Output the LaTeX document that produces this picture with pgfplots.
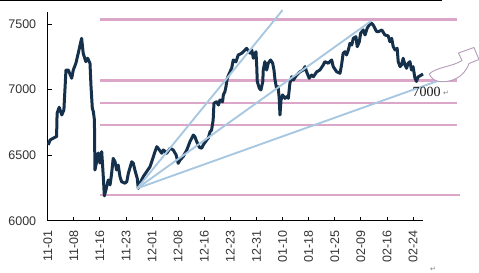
\documentclass[border=0pt]{standalone}
\usepackage{pgfplots}
\pgfplotsset{compat=1.18}
\usepackage{fontspec}
\setmainfont{Liberation Sans}
\newfontfamily\serifnum{Liberation Serif}
\newfontfamily\dejavu{DejaVu Sans}
\definecolor{navy}{HTML}{15304A}
\definecolor{pinkl}{HTML}{DCA6C8}
\definecolor{bluel}{HTML}{A8C8E2}
\definecolor{mauve}{HTML}{B49CB8}
\begin{document}
\begin{tikzpicture}
\path[use as bounding box] (0,0) rectangle (479bp,273bp);
\begin{axis}[
  at={(47.7bp,52.3bp)}, anchor=south west,
  scale only axis, width=375.3bp, height=208.7bp,
  xmin=0, xmax=14.38, ymin=6000, ymax=7593,
  axis x line*=bottom, axis y line*=left,
  axis line style={black, line width=0.9bp, -},
  tick align=inside, major tick length=4bp,
  tick style={black, line width=0.8bp},
  xtick={0,...,14},
  xticklabels={11-01,11-08,11-16,11-23,12-01,12-08,12-16,12-23,12-31,01-10,01-18,01-25,02-09,02-16,02-24},
  ytick={6000,6500,7000,7500},
  /pgf/number format/assume math mode=true,
  /pgf/number format/1000 sep={},
  ticklabel style={font=\fontsize{12.5bp}{14bp}\selectfont, text=black!80},
  xticklabel style={rotate=90, anchor=east},
  xticklabel shift=6.5bp,
  yticklabel shift=8bp,
  clip=false,
]
% pink horizontal levels
\addplot[pinkl, line width=2.6bp] coordinates {(2.0,7538) (15.7,7538)};
\addplot[pinkl, line width=2.6bp] coordinates {(2.0,7069) (15.7,7069)};
\addplot[pinkl, line width=2.6bp] coordinates {(2.0,6898) (15.7,6898)};
\addplot[pinkl, line width=2.6bp] coordinates {(2.0,6730) (15.7,6730)};
\addplot[pinkl, line width=2.6bp] coordinates {(2.0,6196) (15.8,6196)};
% price series
\addplot[navy, line width=3bp, line join=round] coordinates {
(0.02,6578) (0.09,6616) (0.28,6637) (0.34,6641) (0.36,6820) (0.44,6866) (0.54,6807) (0.62,6845)
(0.70,7150) (0.79,7150) (0.92,7087) (0.98,7150) (1.08,7202) (1.17,7278) (1.24,7341) (1.30,7392)
(1.36,7278) (1.46,7214) (1.53,7240) (1.62,7202) (1.66,7023) (1.71,6858) (1.75,6832) (1.79,6769)
(1.81,6387) (1.94,6517) (2.00,6440) (2.07,6527) (2.13,6336) (2.17,6189) (2.23,6234) (2.32,6311)
(2.39,6273) (2.45,6362) (2.51,6476) (2.58,6450) (2.64,6387) (2.70,6425) (2.77,6336) (2.83,6298)
(2.96,6286) (3.03,6298) (3.09,6362) (3.22,6450) (3.28,6438) (3.34,6387) (3.43,6324) (3.47,6247)
(3.54,6286) (3.66,6336) (3.79,6374) (3.92,6412) (4.05,6489) (4.11,6527) (4.18,6565) (4.28,6540)
(4.37,6515) (4.43,6540) (4.56,6515) (4.69,6553) (4.81,6540) (4.92,6502) (5.00,6438) (5.07,6463)
(5.19,6489) (5.33,6540) (5.45,6603) (5.58,6654) (5.64,6641) (5.71,6603) (5.81,6560) (5.90,6553)
(5.96,6578) (6.09,6616) (6.15,6629) (6.22,6679) (6.28,6692) (6.34,6769) (6.37,6896) (6.47,6908)
(6.54,6883) (6.60,6921) (6.70,6908) (6.73,6960) (6.79,6985) (6.83,7023) (6.88,7087) (6.96,7125)
(7.05,7166) (7.11,7227) (7.21,7212) (7.30,7265) (7.43,7278) (7.56,7303) (7.62,7316) (7.75,7278)
(7.82,7303) (7.88,7240) (7.98,7290) (8.01,7176) (8.03,7061) (8.11,7011) (8.17,6998) (8.24,7061)
(8.26,7150) (8.32,7214) (8.39,7150) (8.45,7202) (8.54,7227) (8.62,7202) (8.67,7150) (8.71,7074)
(8.77,7011) (8.83,7023) (8.87,6934) (8.90,6807) (8.94,6921) (9.00,6960) (9.09,6934) (9.16,6947)
(9.22,6934) (9.28,7049) (9.35,7099) (9.41,7074) (9.54,7112) (9.67,7137) (9.79,7150) (9.86,7176)
(9.92,7137) (10.02,7087) (10.11,7112) (10.18,7099) (10.31,7137) (10.43,7150) (10.56,7189) (10.62,7214)
(10.75,7202) (10.88,7227) (10.94,7176) (11.07,7137) (11.20,7125) (11.26,7189) (11.32,7278) (11.39,7290)
(11.45,7265) (11.52,7303) (11.58,7354) (11.65,7341) (11.71,7392) (11.81,7405) (11.86,7328) (11.94,7366)
(11.99,7431) (12.09,7456) (12.16,7418) (12.24,7469) (12.32,7494) (12.41,7507) (12.47,7494) (12.60,7444)
(12.67,7443) (12.80,7456) (12.92,7418) (13.05,7410) (13.11,7366) (13.18,7392) (13.24,7328) (13.31,7303)
(13.39,7316) (13.43,7214) (13.50,7176) (13.56,7189) (13.62,7240) (13.69,7189) (13.75,7163) (13.81,7202)
(13.88,7214) (13.94,7150) (14.00,7176) (14.07,7089) (14.13,7063) (14.19,7097) (14.26,7105) (14.38,7120)
};
% light blue trend lines
\addplot[bluel, line width=1.9bp] coordinates {(3.43,6247) (9.00,7608)};
\addplot[bluel, line width=1.9bp] coordinates {(3.43,6247) (12.41,7527)};
\addplot[bluel, line width=1.9bp] coordinates {(3.43,6247) (15.1,7078)};
\end{axis}
% decorations in image coordinates (y downward)
\begin{scope}[x=1bp, y=-1bp, yshift=273bp]
  \draw[black, line width=1.2bp] (0,0.6) -- (442,0.6);
  \node[font=\serifnum\fontsize{14bp}{16bp}\selectfont, text=black!90, inner sep=0pt] at (426.5,91.5) {7000};
  \node[font=\dejavu\fontsize{7bp}{8bp}\selectfont, text=black!50, inner sep=0pt] at (446,93.5) {↵};
  \node[font=\dejavu\fontsize{7bp}{8bp}\selectfont, text=black!50, inner sep=0pt] at (433,269) {↵};
  \draw[mauve, line width=0.9bp, fill=white, line join=round]
    (429.3,74) .. controls (436,67) and (452,67) .. (462,60.5)
    -- (458.5,53) -- (474,47.5) -- (479,59.5) -- (469,63.5)
    .. controls (464,78) and (450,83) .. (439,81.5)
    .. controls (434,80.5) and (431,78) .. cycle;
\end{scope}
\end{tikzpicture}
\end{document}
